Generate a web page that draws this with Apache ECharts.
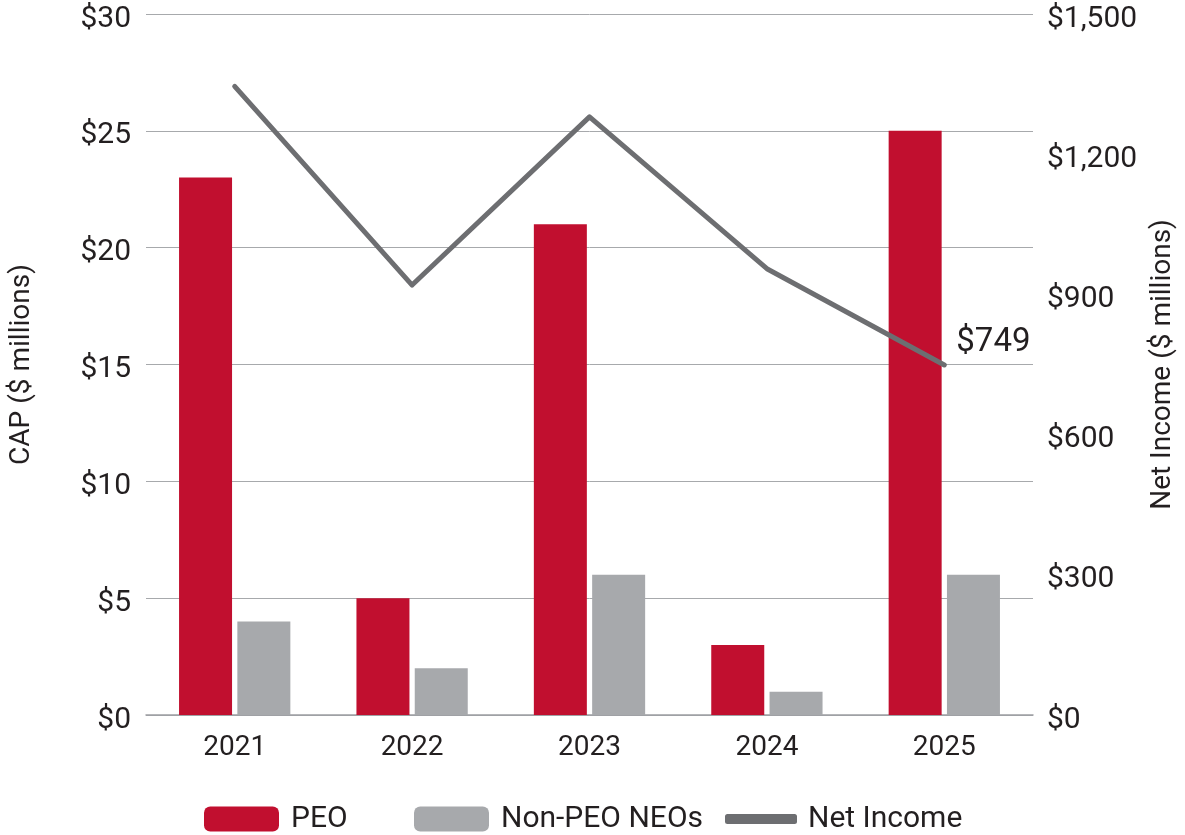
<!DOCTYPE html>
<html>
<head>
<meta charset="utf-8">
<script src="https://cdn.jsdelivr.net/npm/echarts@6/dist/echarts.min.js"></script>
<style>
html,body{margin:0;padding:0;background:#fff;}
#c{width:1185px;height:835px;}
</style>
</head>
<body>
<div id="c"></div>
<script>
const years = ['2021', '2022', '2023', '2024', '2025'];
const peo = [23, 5, 21, 3, 25];
const nonPeo = [4, 2, 6, 1, 6];
const netIncome = [1345, 920, 1280, 955, 749];
const leftTicks = { min: 0, max: 30, interval: 5 };
const rightTicks = { min: 0, max: 1500, interval: 300 };

const FONT = 'Roboto';
const TXT = '#231f20';
const RED = '#c10f2f';
const GRAY = '#a7a9ac';
const LINE = '#6d6e71';

const chart = echarts.init(document.getElementById('c'));
const legendText = { fontFamily: FONT, fontSize: 30, color: TXT, padding: [0, 0, 0, 7] };
chart.setOption({
  animation: false,
  textStyle: { fontFamily: FONT },
  grid: { left: 141, right: 145, top: 14, bottom: 120 },
  legend: [
    { data: ['PEO'], left: 204, top: 804, padding: 0, itemWidth: 75, itemHeight: 25, textStyle: legendText, selectedMode: false },
    { data: ['Non-PEO NEOs'], left: 414, top: 804, padding: 0, itemWidth: 75, itemHeight: 25, textStyle: legendText, selectedMode: false },
    { data: [{ name: 'Net Income', icon: 'roundRect' }], left: 725, top: 804, padding: 0, itemWidth: 72, itemHeight: 10, textStyle: Object.assign({}, legendText, { padding: [0, 0, 0, 6] }), selectedMode: false }
  ],
  xAxis: {
    type: 'category',
    data: years,
    axisLine: { lineStyle: { color: '#9d9fa2', width: 1.5 } },
    axisTick: { show: false },
    axisLabel: { fontFamily: FONT, fontSize: 28, color: TXT, margin: 19 }
  },
  yAxis: [
    {
      type: 'value',
      min: leftTicks.min, max: leftTicks.max, interval: leftTicks.interval,
      name: 'CAP ($ millions)',
      nameLocation: 'middle',
      nameRotate: 90,
      nameGap: 110,
      nameTextStyle: { fontFamily: FONT, fontSize: 28, color: TXT },
      axisLine: { show: false },
      axisTick: { show: false },
      splitLine: { lineStyle: { color: '#a7a9ac', width: 1 } },
      axisLabel: { fontFamily: FONT, fontSize: 30, color: TXT, margin: 15, verticalAlign: 'top', lineHeight: 10, formatter: v => '$' + v }
    },
    {
      type: 'value',
      min: rightTicks.min, max: rightTicks.max, interval: rightTicks.interval,
      name: 'Net Income ($ millions)',
      nameLocation: 'middle',
      nameRotate: 90,
      nameGap: 116,
      nameTextStyle: { fontFamily: FONT, fontSize: 28, color: TXT },
      axisLine: { show: false },
      axisTick: { show: false },
      splitLine: { show: false },
      axisLabel: { fontFamily: FONT, fontSize: 30, color: TXT, margin: 14, align: 'left', verticalAlign: 'top', lineHeight: 10,
        formatter: v => '$' + v.toLocaleString('en-US') }
    }
  ],
  series: [
    { name: 'PEO', type: 'bar', data: peo, barWidth: 53, barGap: '10%', itemStyle: { color: RED } },
    { name: 'Non-PEO NEOs', type: 'bar', data: nonPeo, barWidth: 53, barGap: '10%', itemStyle: { color: GRAY } },
    {
      name: 'Net Income', type: 'line', yAxisIndex: 1, data: netIncome,
      symbol: 'none', color: LINE,
      lineStyle: { color: LINE, width: 5, cap: 'round', join: 'round' },
      endLabel: { show: true, formatter: p => '$' + p.value, fontFamily: FONT, fontSize: 33, color: TXT, distance: 12, offset: [0, -22] }
    }
  ]
});
</script>
</body>
</html>
